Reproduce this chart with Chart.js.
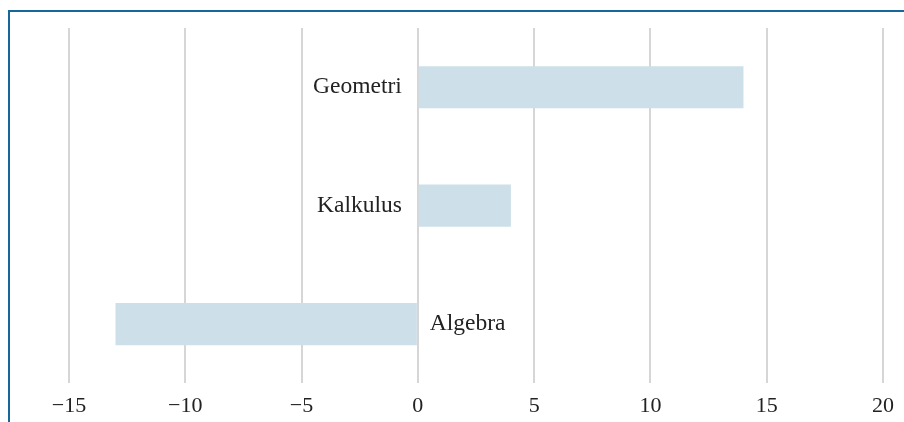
<!DOCTYPE html>
<html>
<head>
<meta charset="utf-8">
<script src="https://cdn.jsdelivr.net/npm/chart.js@4.4.0/dist/chart.umd.min.js"></script>
<style>
  html, body { margin: 0; padding: 0; background: #fff; overflow: hidden; }
  #frame {
    position: absolute; left: 8px; top: 10px; width: 1000px; height: 600px;
    border-left: 2px solid #17679b; border-top: 2px solid #17679b;
  }
  #chart { position: absolute; left: 0; top: 0; }
</style>
</head>
<body>
<div id="frame"></div>
<canvas id="chart" width="904" height="422"></canvas>
<script>
// Subjects, top to bottom
const categories = ['Geometri', 'Kalkulus', 'Algebra'];
const values = [14, 4, -13];
const xTicks = [-15, -10, -5, 0, 5, 10, 15, 20];

const fontFamily = "'Liberation Serif', 'DejaVu Serif', serif";

// Write the category name next to the zero line, on the side away from the bar
const sideLabels = {
  id: 'sideLabels',
  afterDatasetsDraw(chart) {
    const ctx = chart.ctx;
    const xScale = chart.scales.x;
    const zeroX = xScale.getPixelForValue(0);
    const meta = chart.getDatasetMeta(0);
    ctx.save();
    ctx.font = '23.5px ' + fontFamily;
    ctx.fillStyle = '#222';
    ctx.textBaseline = 'middle';
    meta.data.forEach((bar, i) => {
      if (values[i] >= 0) {
        ctx.textAlign = 'right';
        ctx.fillText(categories[i], zeroX - 16, bar.y);
      } else {
        ctx.textAlign = 'left';
        ctx.fillText(categories[i], zeroX + 12, bar.y);
      }
    });
    ctx.restore();
  }
};

new Chart(document.getElementById('chart').getContext('2d'), {
  type: 'bar',
  data: {
    labels: categories,
    datasets: [{
      data: values,
      backgroundColor: 'rgb(205, 223, 232)',
      borderWidth: 0,
      barPercentage: 0.356,
      categoryPercentage: 1
    }]
  },
  options: {
    indexAxis: 'y',
    responsive: false,
    animation: false,
    devicePixelRatio: 1,
    layout: { padding: { left: 69, right: 20, top: 28, bottom: 0 } },
    plugins: {
      legend: { display: false },
      tooltip: { enabled: false }
    },
    scales: {
      x: {
        min: -15,
        max: 20,
        afterBuildTicks: axis => { axis.ticks = xTicks.map(v => ({ value: v })); },
        afterFit: axis => { axis.height = 38.7; },
        ticks: {
          padding: 10,
          color: '#222',
          font: { family: fontFamily, size: 22 },
          maxRotation: 0,
          callback: v => String(v).replace('-', '\u2212')
        },
        grid: { color: '#d6d6d6', lineWidth: 2, drawTicks: false },
        border: { display: false }
      },
      y: {
        display: false,
        grid: { display: false }
      }
    }
  },
  plugins: [sideLabels]
});
</script>
</body>
</html>
